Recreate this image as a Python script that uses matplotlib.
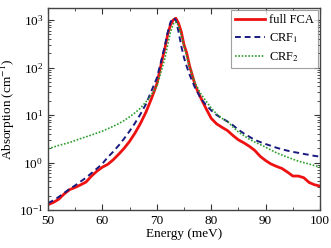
import numpy as np
import matplotlib
matplotlib.use("Agg")
import matplotlib.pyplot as plt
from matplotlib.ticker import LogLocator, MultipleLocator, LogFormatterMathtext

plt.rcParams['font.family'] = ['Liberation Serif', 'DejaVu Serif']
plt.rcParams['mathtext.fontset'] = 'stix'

# full FCA
e_fca = [50, 51, 52, 53, 54, 55, 56, 57, 58, 59, 60, 61, 62, 63, 64, 65, 66, 67, 68, 69,
         70, 71, 71.5, 72, 72.5, 73, 73.5, 74, 74.5, 75, 75.5, 76, 76.5, 77, 77.5, 78, 79,
         80, 81, 82, 83, 84, 85, 86, 87, 88, 89, 90, 91, 92, 93, 94, 95, 96, 97, 98, 99, 100]
a_fca = [0.13, 0.145, 0.17, 0.22, 0.27, 0.30, 0.34, 0.39, 0.52, 0.66, 0.80, 0.92, 1.15, 1.5,
         2.0, 2.8, 4.2, 6.7, 11.5, 22, 45, 150, 260, 500, 780, 1000, 1090, 850, 560, 300,
         200, 110, 70, 44, 32, 24, 14, 8.5, 6.5, 5.5, 4.7, 3.7, 3.0, 2.6, 2.2, 1.8, 1.35,
         1.1, 0.93, 0.83, 0.75, 0.63, 0.52, 0.52, 0.48, 0.38, 0.34, 0.32]

# CRF1
e_crf1 = [50, 51, 52, 53, 54, 55, 56, 57, 58, 59, 60, 61, 62, 63, 64, 65, 66, 67, 68, 69,
          70, 71, 71.5, 72, 72.5, 73, 73.5, 74, 74.5, 75, 75.5, 76, 76.5, 77, 77.5, 78, 79,
          80, 81, 82, 83, 84, 85, 86, 87, 88, 89, 90, 91, 92, 93, 94, 95, 96, 97, 98, 99, 100]
a_crf1 = [0.14, 0.16, 0.19, 0.23, 0.28, 0.33, 0.40, 0.48, 0.60, 0.75, 0.95, 1.3, 1.7, 2.3,
          3.2, 4.6, 6.8, 10.5, 17, 32, 60, 170, 300, 550, 900, 1120, 1000, 560, 280, 160,
          105, 72, 52, 38, 30, 23, 16.5, 12.5, 10, 8.5, 7.3, 6.1, 4.9, 4.1, 3.5, 3.0, 2.7,
          2.45, 2.25, 2.05, 1.9, 1.78, 1.68, 1.6, 1.52, 1.45, 1.38, 1.33]

# CRF2
e_crf2 = [50, 52, 54, 56, 58, 60, 62, 63, 64, 65, 66, 67, 68, 69, 70, 71, 71.5, 72, 72.5,
          73, 73.5, 74, 74.5, 75, 75.5, 76, 76.5, 77, 78, 79, 80, 81, 82, 83, 84, 85, 86,
          87, 88, 89, 90, 92, 94, 96, 98, 100]
a_crf2 = [1.95, 2.3, 2.65, 3.2, 3.8, 4.6, 5.8, 6.6, 7.7, 9.2, 11.2, 14, 19, 27, 40, 100,
          160, 300, 550, 820, 930, 760, 470, 280, 170, 105, 70, 48, 29, 20, 14, 10.5, 8.5,
          7.3, 5.6, 4.4, 3.7, 3.1, 2.7, 2.4, 2.1, 1.6, 1.3, 1.07, 0.93, 0.8]

fig = plt.figure(figsize=(3.31, 2.48), dpi=100)
ax = fig.add_axes([0.145, 0.153, 0.822, 0.815])

ax.plot(e_fca, a_fca, color='#ee1111', lw=2.0, label='full FCA')
ax.plot(e_crf1, a_crf1, color='#1a1a80', lw=1.4, ls=(0, (3, 2)), label='CRF$_1$')
ax.plot(e_crf2, a_crf2, color='#2e9e2e', lw=1.2, ls=(0, (1, 1)), label='CRF$_2$')

ax.set_yscale('log')
ax.set_xlim(50, 100)
ax.set_ylim(0.1, 1800)
ax.xaxis.set_major_locator(MultipleLocator(10))
ax.xaxis.set_minor_locator(MultipleLocator(5))
ax.yaxis.set_major_locator(LogLocator(base=10, numticks=10))
ax.yaxis.set_minor_locator(LogLocator(base=10, subs=np.arange(2, 10), numticks=10))
ax.yaxis.set_major_formatter(LogFormatterMathtext())
ax.tick_params(which='both', direction='in', top=True, right=True, labelsize=9.5,
               colors='#333333', labelcolor='black')
ax.tick_params(which='major', length=4)
ax.tick_params(which='minor', length=2)
for s in ax.spines.values():
    s.set_color('#444444')
    s.set_linewidth(1.0)

ax.set_xlabel('Energy (meV)', fontsize=9.5, labelpad=1)
ax.set_ylabel('Absorption (cm$^{-1}$)', fontsize=9.5, labelpad=1)

leg = ax.legend(loc='upper right', fontsize=9, frameon=True, fancybox=False,
                edgecolor='#888888', borderaxespad=0.2, handlelength=2.4,
                handletextpad=0.3, borderpad=0.3, labelspacing=0.4)
leg.get_frame().set_linewidth(0.8)

fig.savefig('out.png', dpi=100)
